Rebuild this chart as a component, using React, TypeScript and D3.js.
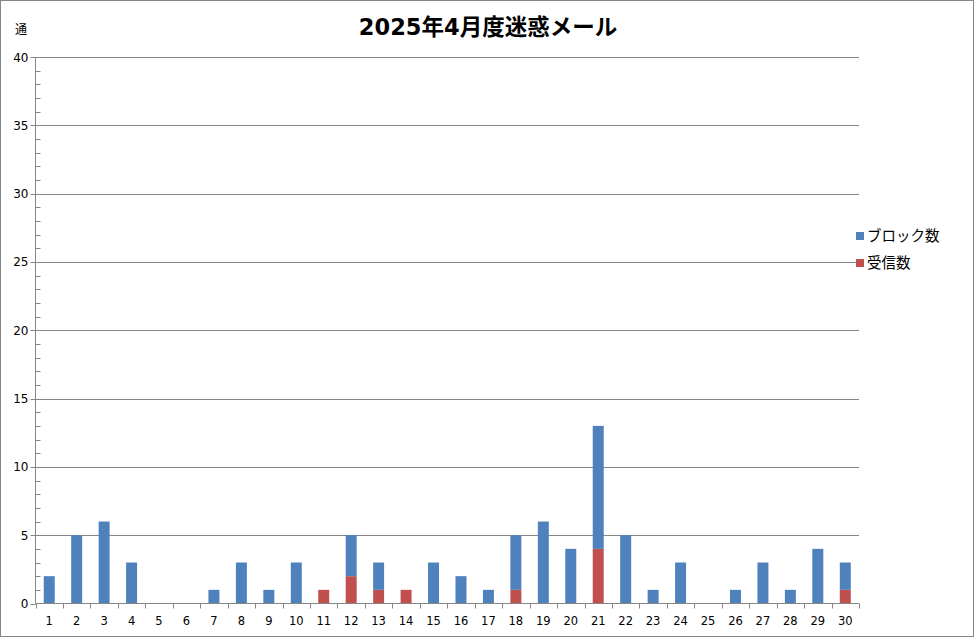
import React, { useEffect, useRef } from 'react';
import * as d3 from 'd3';

const days = d3.range(1, 31).map((d) => String(d));
const blocked = [2, 5, 6, 3, 0, 0, 1, 3, 1, 3, 0, 3, 2, 0, 3, 2, 1, 4, 6, 4, 9, 5, 1, 3, 0, 1, 3, 1, 4, 2];
const received = [0, 0, 0, 0, 0, 0, 0, 0, 0, 0, 1, 2, 1, 1, 0, 0, 0, 1, 0, 0, 4, 0, 0, 0, 0, 0, 0, 0, 0, 1];
const seriesNames = ['ブロック数', '受信数'];
const seriesColors = ['#4F81BD', '#C0504D'];
const yTicks = [0, 5, 10, 15, 20, 25, 30, 35, 40];

const W = 975;
const H = 639;
const FONT = '"DejaVu Sans", "Noto Sans CJK JP", sans-serif';
const CJK = '"Noto Sans CJK JP", sans-serif';

const App: React.FC = () => {
  const ref = useRef<SVGSVGElement>(null);

  useEffect(() => {
    if (!ref.current) return;
    const svg = d3.select(ref.current);
    svg.selectAll('*').remove();

    const left = 35.5;
    const right = 859;
    const top = 57;
    const bottom = 603.5;

    const x = d3.scaleBand().domain(days).range([left, right]).paddingInner(0.6).paddingOuter(0.3);
    const y = d3.scaleLinear().domain([0, 40]).range([bottom, top]);

    svg.append('rect')
      .attr('x', 0.5).attr('y', 0.5).attr('width', W - 2).attr('height', H - 3)
      .attr('fill', 'white').attr('stroke', '#868686');

    // gridlines
    svg.append('g')
      .selectAll('line')
      .data(yTicks.filter((t) => t > 0))
      .join('line')
      .attr('x1', left).attr('x2', right)
      .attr('y1', (d) => Math.round(y(d)) + 0.5).attr('y2', (d) => Math.round(y(d)) + 0.5)
      .attr('stroke', '#868686');

    // stacked bars, received at the bottom
    const rows = days.map((d, i) => ({ day: d, received: received[i], blocked: blocked[i] }));
    const stack = d3.stack<any>().keys(['received', 'blocked'])(rows);
    const colorOf: Record<string, string> = { blocked: seriesColors[0], received: seriesColors[1] };

    svg.append('g')
      .selectAll('g')
      .data(stack)
      .join('g')
      .attr('fill', (s) => colorOf[s.key])
      .selectAll('rect')
      .data((s) => s)
      .join('rect')
      .attr('x', (d: any) => x(d.data.day)!)
      .attr('width', x.bandwidth())
      .attr('y', (d) => y(d[1]))
      .attr('height', (d) => y(d[0]) - y(d[1]));

    // y axis
    const ya = svg.append('g').attr('transform', `translate(${left},0)`);
    ya.append('line').attr('x1', 0).attr('x2', 0).attr('y1', top).attr('y2', bottom).attr('stroke', '#868686');
    ya.selectAll('line.minor')
      .data(d3.range(0, 41))
      .join('line')
      .attr('class', 'minor')
      .attr('x1', (d) => (d % 5 === 0 ? -5 : 0)).attr('x2', (d) => (d % 5 === 0 ? 0 : 5))
      .attr('y1', (d) => Math.round(y(d)) + 0.5).attr('y2', (d) => Math.round(y(d)) + 0.5)
      .attr('stroke', '#868686');
    ya.selectAll('text')
      .data(yTicks)
      .join('text')
      .attr('x', -7).attr('y', (d) => y(d) + 4.5)
      .attr('text-anchor', 'end')
      .attr('font-family', FONT).attr('font-size', 12).attr('fill', '#000')
      .text((d) => d);

    // x axis
    const xa = svg.append('g');
    xa.append('line').attr('x1', left).attr('x2', right).attr('y1', bottom).attr('y2', bottom).attr('stroke', '#868686');
    xa.selectAll('line.tick')
      .data(d3.range(0, days.length + 1))
      .join('line')
      .attr('class', 'tick')
      .attr('x1', (i) => Math.round(left + i * x.step()) + 0.5)
      .attr('x2', (i) => Math.round(left + i * x.step()) + 0.5)
      .attr('y1', bottom).attr('y2', bottom + 5)
      .attr('stroke', '#868686');
    xa.selectAll('text')
      .data(days)
      .join('text')
      .attr('x', (d) => x(d)! + x.bandwidth() / 2)
      .attr('y', 625)
      .attr('text-anchor', 'middle')
      .attr('font-family', FONT).attr('font-size', 11.5).attr('fill', '#000')
      .text((d) => d);

    // titles
    svg.append('text')
      .attr('x', 488).attr('y', 35)
      .attr('text-anchor', 'middle')
      .attr('font-family', FONT).attr('font-weight', 'bold').attr('font-size', 22.5)
      .attr('fill', '#000')
      .text('2025年4月度迷惑メール');
    svg.append('text')
      .attr('x', 21).attr('y', 34)
      .attr('text-anchor', 'middle')
      .attr('font-family', CJK).attr('font-size', 12).attr('fill', '#000')
      .text('通');

    // legend
    const lg = svg.append('g')
      .selectAll('g')
      .data(seriesNames)
      .join('g')
      .attr('transform', (_, i) => `translate(856,${232 + i * 27})`);
    lg.append('rect').attr('width', 8).attr('height', 8).attr('fill', (_, i) => seriesColors[i]);
    lg.append('text')
      .attr('x', 11).attr('y', 9)
      .attr('font-family', CJK).attr('font-size', 14.5).attr('fill', '#000')
      .text((d) => d);
  }, []);

  return (
    <svg
      ref={ref}
      width={W}
      height={H}
      style={{ position: 'absolute', left: 0, top: 0, display: 'block' }}
    />
  );
};

export default App;
